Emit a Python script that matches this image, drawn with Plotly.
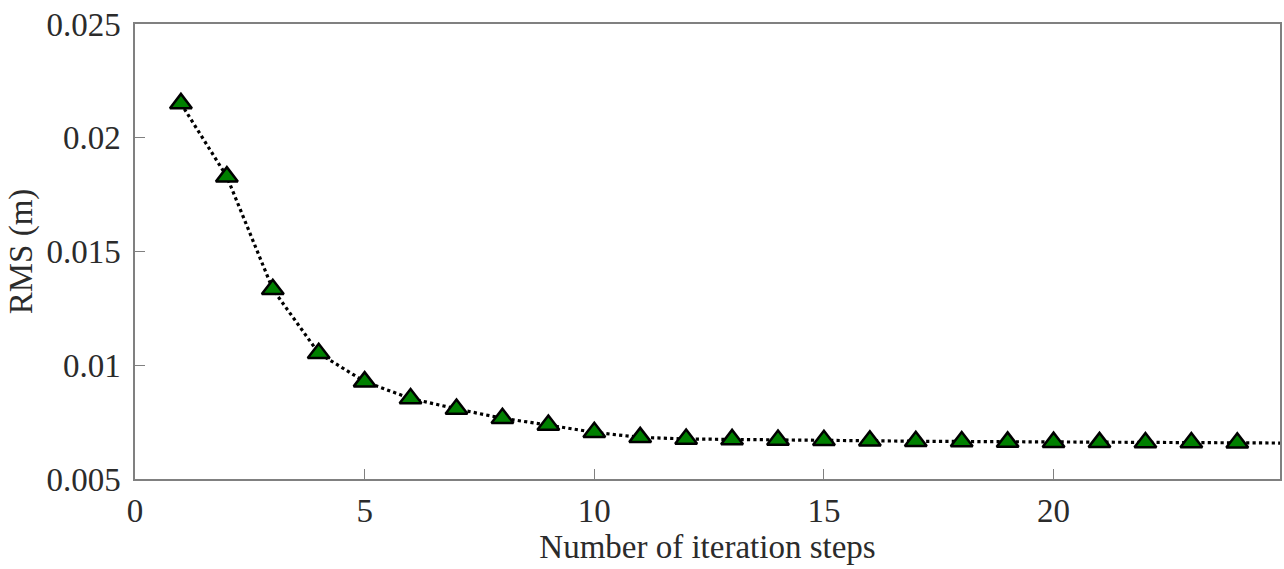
import plotly.graph_objects as go

steps = list(range(1, 26))
rms = [0.02151, 0.01829, 0.01334, 0.01053, 0.00928, 0.00854, 0.00808, 0.00767,
       0.00737, 0.00705, 0.00683, 0.00676, 0.00674, 0.00671, 0.00670, 0.00668,
       0.00666, 0.00665, 0.00663, 0.00662, 0.00661, 0.00660, 0.00660, 0.00659,
       0.00658]
n_marked = 24  # markers drawn for steps 1..24

x_ticks = [0, 5, 10, 15, 20]
y_ticks = [0.005, 0.01, 0.015, 0.02, 0.025]
y_labels = ["0.005", "0.01", "0.015", "0.02", "0.025"]

font_family = "Liberation Serif"
text_color = "#2b2b2b"
axis_color = "#808080"
fs = 33

fig = go.Figure()
fig.add_trace(go.Scatter(
    x=steps, y=rms, mode="lines",
    line=dict(color="black", width=3.2, dash="dot"),
    showlegend=False,
))
fig.add_trace(go.Scatter(
    x=steps[:n_marked], y=rms[:n_marked], mode="markers",
    marker=dict(symbol="triangle-up", size=19, color="#008000",
                line=dict(color="black", width=2.5)),
    showlegend=False,
))

fig.update_layout(
    width=1284, height=569,
    margin=dict(l=135, r=2, t=24, b=90),
    paper_bgcolor="white", plot_bgcolor="white",
    font=dict(family=font_family, size=fs, color=text_color),
)
fig.update_xaxes(
    range=[0, 24.93], tickvals=x_ticks, ticks="inside", ticklen=10,
    tickcolor=axis_color, tickwidth=1.2,
    showline=True, linecolor=axis_color, linewidth=1.5, mirror=True,
    showgrid=False, zeroline=False, ticklabelstandoff=2,
    tickfont=dict(family=font_family, size=fs, color=text_color),
    title=dict(text="Number of iteration steps", font=dict(family=font_family, size=fs, color=text_color), standoff=0),
)
fig.update_yaxes(
    range=[0.005, 0.025], tickvals=y_ticks, ticktext=y_labels, ticks="inside", ticklen=10,
    tickcolor=axis_color, tickwidth=1.2,
    showline=True, linecolor=axis_color, linewidth=1.5, mirror=True,
    showgrid=False, zeroline=False, ticklabelstandoff=6,
    tickfont=dict(family=font_family, size=fs, color=text_color),
    title=dict(text="RMS (m)", font=dict(family=font_family, size=fs, color=text_color), standoff=4),
)

fig.write_html("out.html")
